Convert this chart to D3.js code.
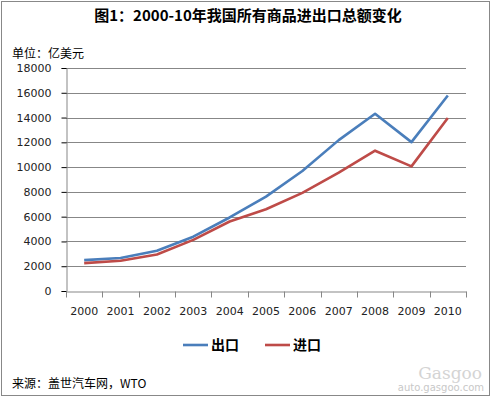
<!DOCTYPE html>
<html>
<head>
<meta charset="utf-8">
<script src="https://cdn.jsdelivr.net/npm/d3@7"></script>
<style>
  body { margin: 0; background: #fff; }
  svg text { font-family: "Noto Sans CJK SC", "DejaVu Sans", sans-serif; }
</style>
</head>
<body>
<svg id="chart" width="492" height="398"></svg>
<script>
// data (亿美元)
let years = ["2000", "2001", "2002", "2003", "2004", "2005", "2006", "2007", "2008", "2009", "2010"];
let exportValues = [2492, 2661, 3256, 4382, 5933, 7620, 9689, 12178, 14307, 12016, 15778];
let importValues = [2251, 2436, 2952, 4128, 5612, 6600, 7916, 9560, 11326, 10059, 13962];
let yTicks = [0, 2000, 4000, 6000, 8000, 10000, 12000, 14000, 16000, 18000];
let seriesNames = ["出口", "进口"];

let svg = d3.select("#chart");
let margin = {top: 68, left: 66, right: 26, bottom: 107};
let width = 492 - margin.left - margin.right;
let height = 398 - margin.top - margin.bottom;
let colors = ["#4a7ebb", "#be4b48"];

// outer frame
svg.append("rect")
    .attr("x", 1.5).attr("y", 1.5)
    .attr("width", 488).attr("height", 394)
    .attr("fill", "#fff").attr("stroke", "#888").attr("stroke-width", 1);

// title
svg.append("text")
    .attr("x", 248).attr("y", 21)
    .attr("text-anchor", "middle")
    .style("font-size", "15px").style("font-weight", "bold")
    .text("图1：2000-10年我国所有商品进出口总额变化");

svg.append("text")
    .attr("x", 12).attr("y", 58)
    .style("font-size", "12px")
    .text("单位：亿美元");

let g = svg.append("g").attr("transform", "translate(" + margin.left + "," + margin.top + ")");

let x = d3.scaleBand().domain(years).range([0, width]);
let y = d3.scaleLinear().domain([0, 18000]).range([height, 0]);

// gridlines
g.append("g").selectAll("line")
    .data(yTicks.filter(d => d > 0)).enter()
    .append("line")
    .attr("x1", 0).attr("x2", width)
    .attr("y1", d => Math.round(y(d)) + 0.5).attr("y2", d => Math.round(y(d)) + 0.5)
    .attr("stroke", "#878787");

// y axis
let yAxis = g.append("g")
    .attr("transform", "translate(0.5,0)")
    .call(d3.axisLeft(y).tickValues(yTicks).tickSize(5).tickPadding(10).tickFormat(d3.format("d")));
yAxis.selectAll("text").style("font-size", "11px").attr("fill", "#222")
    .style("font-family", "'DejaVu Sans', sans-serif");

// x axis with ticks on category boundaries
let xAxis = g.append("g")
    .attr("transform", "translate(0," + (Math.round(height) + 0.5) + ")")
    .call(d3.axisBottom(x).tickSize(0).tickPadding(16));
xAxis.selectAll("text").style("font-size", "11px").attr("fill", "#222")
    .style("font-family", "'DejaVu Sans', sans-serif");
xAxis.append("g").selectAll("line")
    .data(years.concat(["end"])).enter()
    .append("line")
    .attr("x1", (d, i) => Math.round(i * x.step()) + 0.5)
    .attr("x2", (d, i) => Math.round(i * x.step()) + 0.5)
    .attr("y1", 0).attr("y2", 6)
    .attr("stroke", "#878787");
g.selectAll(".domain").attr("stroke", "#878787");

// lines
let line = d3.line()
    .x((d, i) => x(years[i]) + x.bandwidth() / 2)
    .y(d => y(d));

[exportValues, importValues].forEach((vals, i) => {
    g.append("path")
        .datum(vals)
        .attr("fill", "none")
        .attr("stroke", colors[i])
        .attr("stroke-width", 2.6)
        .attr("stroke-linejoin", "round")
        .attr("d", line);
});

// legend
let legendX = [183, 265];
let legend = svg.append("g").selectAll("g")
    .data(seriesNames).enter()
    .append("g")
    .attr("transform", (d, i) => "translate(" + legendX[i] + ",345)");
legend.append("line")
    .attr("x1", 0).attr("x2", 25)
    .attr("stroke", (d, i) => colors[i]).attr("stroke-width", 2.6);
legend.append("text")
    .attr("x", 28).attr("y", 5)
    .style("font-size", "14px").style("font-weight", "bold")
    .text(d => d);

// source
svg.append("text")
    .attr("x", 12).attr("y", 388)
    .style("font-size", "12px")
    .text("来源：盖世汽车网，WTO");

// faint watermark
svg.append("text")
    .attr("x", 484).attr("y", 391)
    .attr("text-anchor", "end")
    .style("font-size", "10px").attr("fill", "#c8c8c8")
    .style("font-family", "'DejaVu Sans', sans-serif")
    .text("auto.gasgoo.com");
svg.append("text")
    .attr("x", 482).attr("y", 379)
    .attr("text-anchor", "end")
    .style("font-size", "17px").attr("fill", "#d4d4d4")
    .style("font-family", "'DejaVu Serif', serif")
    .text("Gasgoo");
</script>
</body>
</html>
